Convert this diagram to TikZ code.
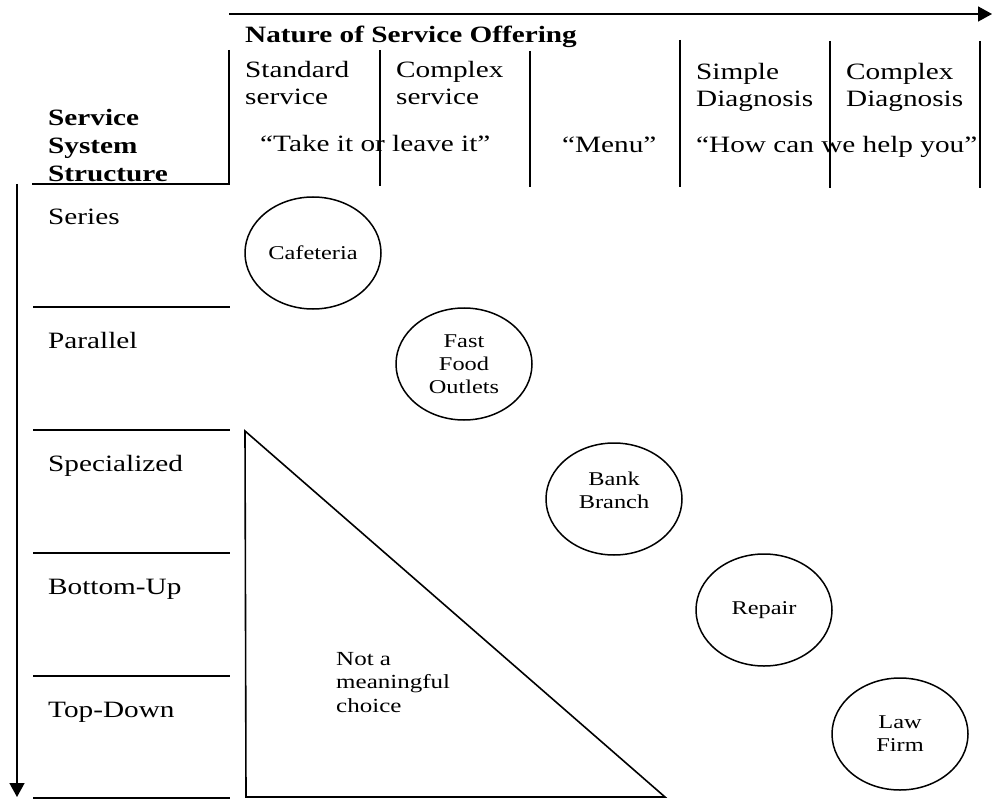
\documentclass[tikz,border=0pt]{standalone}
\usepackage{fontspec}
\setmainfont{Liberation Serif}[FakeStretch=1.25]
\usetikzlibrary{arrows.meta,shapes.geometric}
\begin{document}
\begin{tikzpicture}[x=1pt,y=-1pt,
  rule/.style={line width=1.6pt},
  axis/.style={line width=1.6pt,-{Triangle[length=14pt,width=15pt]}},
  head/.style={font=\fontsize{23.4}{27.5}\selectfont,inner sep=0pt,anchor=base west,align=left},
  bhead/.style={head,font=\bfseries\fontsize{23.4}{28}\selectfont},
  oval/.style={draw,ellipse,line width=1.5pt,minimum width=136pt,minimum height=112pt,
    inner sep=0pt,align=center,font=\fontsize{19.5}{23}\selectfont},
  ovaltext/.style={inner sep=0pt,align=center,font=\fontsize{19.5}{23}\selectfont},
  note/.style={inner sep=0pt,anchor=base west,align=left,font=\fontsize{20}{23.5}\selectfont},
]
\useasboundingbox (0,0) rectangle (992,799);

% horizontal axis: nature of the service offering
\coordinate (ax0) at (229,14);
\coordinate (ax1) at (992,14);
\draw[axis] (ax0) -- (ax1);

% column dividers of the header
\coordinate (hc0) at (229,50);
\coordinate (hc1) at (229,184);
\coordinate (hl) at (32,184);
\draw[rule] (hc0) -- (hc1) -- (hl);
\foreach \x/\a/\b in {380/50/186, 530/51/187, 680/40/187, 830/41/188, 980/41/188}
  \draw[rule] (\x,\a) -- (\x,\b);

% vertical axis: service system structure
\coordinate (ay0) at (17,184);
\coordinate (ay1) at (17,797);
\draw[axis] (ay0) -- (ay1);

% row separators
\foreach \y in {307,430,553,676,798}
  \draw[rule] (33,\y) -- (230,\y);

% region that is not a meaningful choice
\coordinate (t0) at (245,431);
\coordinate (t1) at (246,797);
\coordinate (t2) at (665,797);
\draw[rule,line join=miter] (t0) -- (t1) -- (t2) -- cycle;

% header texts (multi-line nodes sit on the baseline of their last line)
\node[bhead] (nature) at (245,42.5) {Nature of Service Offering};
\node[head] (std) at (245,105) {Standard\\service};
\node[head] (cpx) at (396,105) {Complex\\service};
\node[head] (simple) at (696,107) {Simple\\Diagnosis};
\node[head] (cdiag) at (846,107) {Complex\\Diagnosis};
\node[head] (take) at (260,152) {“Take it or leave it”};
\node[head] (menu) at (562,153) {“Menu”};
\node[head] (help) at (696,153) {“How can we help you”};
\node[bhead] (sss) at (48,182) {Service\\System\\Structure};

% row labels
\node[head] (series) at (48,225) {Series};
\node[head] (parallel) at (48,348) {Parallel};
\node[head] (special) at (48,471) {Specialized};
\node[head] (bottomup) at (48,594) {Bottom-Up};
\node[head] (topdown) at (48,717) {Top-Down};

% service examples
\node[oval] (caf) at (313,253) {Cafeteria};
\node[oval] (fast) at (464,364) {Fast\\Food\\Outlets};
\node[oval] (bank) at (614,499) {};
\node[ovaltext] (banktxt) at (614,490) {Bank\\Branch};
\node[oval] (repair) at (764,610) {Repair};
\node[oval] (law) at (900,734) {Law\\Firm};

\node[note] (nmc) at (336,712) {Not a\\meaningful\\choice};
\end{tikzpicture}
\end{document}
